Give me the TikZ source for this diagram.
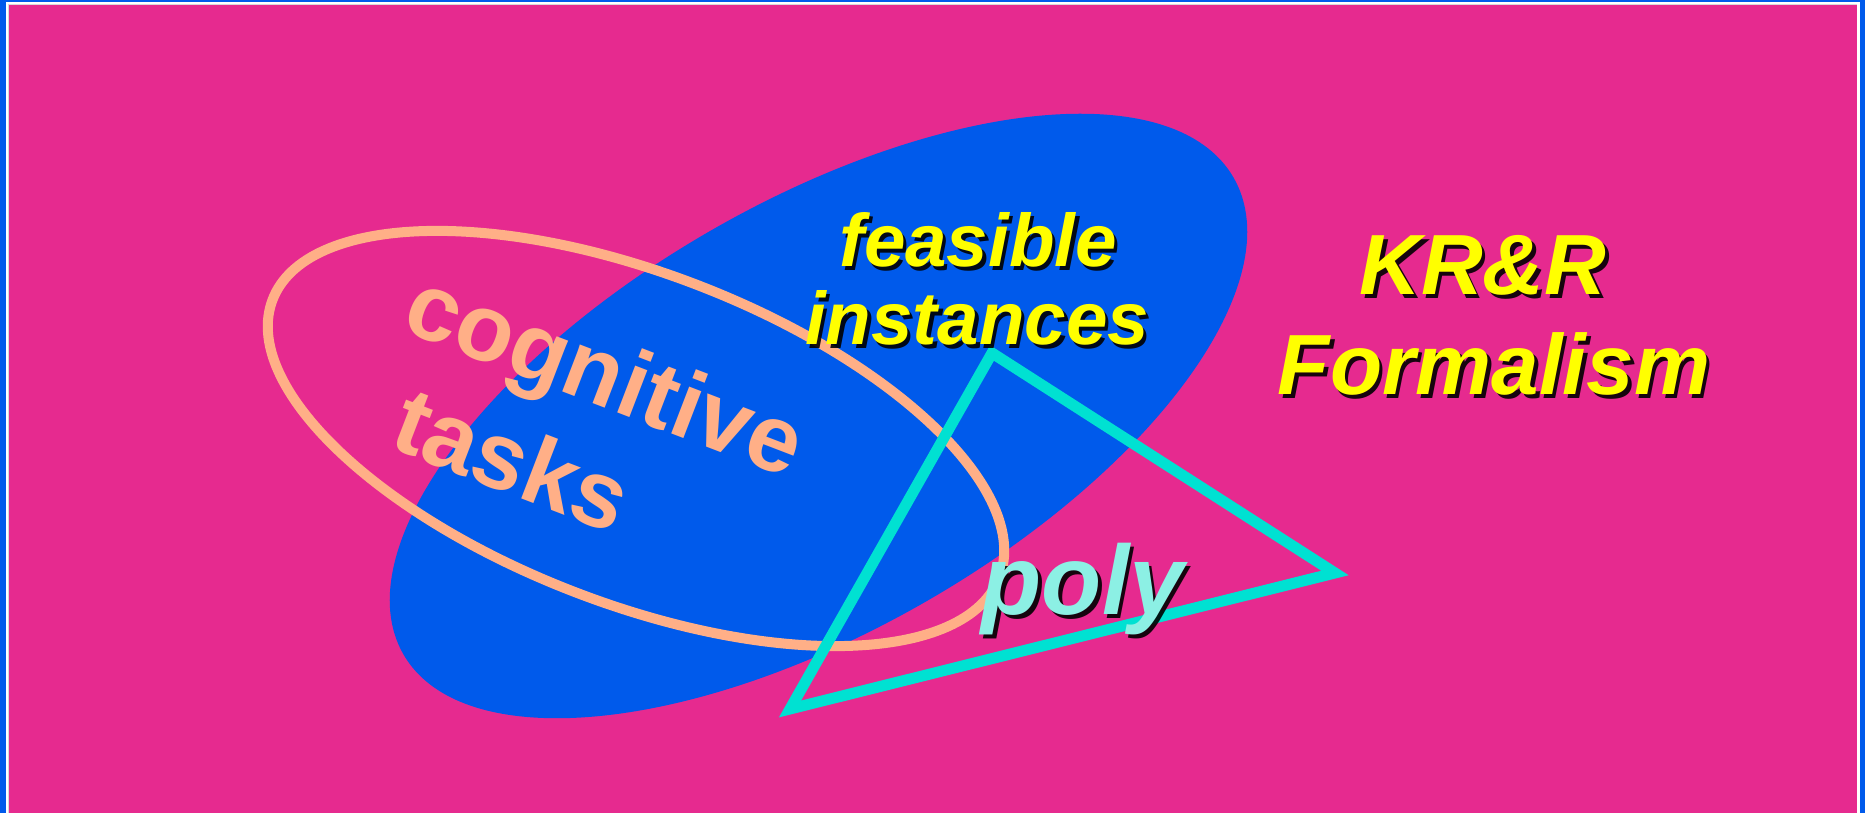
\documentclass[tikz,border=0pt]{standalone}
\usepackage{fontspec}
\setmainfont{Liberation Sans}
\definecolor{frameblue}{RGB}{0,90,235}
\definecolor{bgpink}{RGB}{230,42,143}
\definecolor{ellblue}{RGB}{0,90,235}
\definecolor{peach}{RGB}{255,175,135}
\definecolor{tricyan}{RGB}{0,225,210}
\definecolor{polycol}{RGB}{140,240,228}
\definecolor{textyellow}{RGB}{255,255,0}
\tikzset{
  yeltext/.style={font=\fontsize{21.2}{23}\selectfont\bfseries\itshape, text=textyellow, inner sep=0pt, anchor=base},
  bigyel/.style={font=\fontsize{24.3}{26}\selectfont\bfseries\itshape, text=textyellow, inner sep=0pt, anchor=base},
  polytext/.style={font=\fontsize{28}{30}\selectfont\bfseries\itshape, text=polycol, inner sep=0pt, anchor=base},
  shadowed/.style={text=black, opacity=0.9},
  peachtext/.style={font=\fontsize{27}{30}\selectfont\bfseries, text=peach, inner sep=0pt, text height=19.4pt, text depth=5.7pt, rotate=-21},
  ovalline/.style={draw=peach, line width=0.1cm},
  triline/.style={draw=tricyan, line width=0.11cm, line join=miter}
}
\begin{document}
\begin{tikzpicture}[x=0.01cm, y=-0.01cm]
\useasboundingbox (0,0) rectangle (1865,813);
% frame and background
\fill[frameblue] (0,0) rectangle (1865,813);
\fill[white] (6,2) rectangle (1860,813);
\fill[black!15] (8,4) rectangle (1857,813);
\fill[bgpink] (9,5) rectangle (1857,813);
% feasible instances region
\fill[ellblue, rotate around={29.85:(818.5,416)}] (818.5,416) ellipse [x radius=4.784cm, y radius=2.143cm];
% cognitive tasks outline
\draw[ovalline, rotate around={-20.9:(636,438.5)}] (636,438.5) ellipse [x radius=3.888cm, y radius=1.652cm];
% poly triangle
\coordinate (ta) at (992,353);
\coordinate (tb) at (1335,573);
\coordinate (tc) at (790,709);
\draw[triline] (ta) -- (tb) -- (tc) -- cycle;
% texts
\node[peachtext] (cog) at (602.5,381.5) {cognitive};
\node[peachtext] (tasks) at (509,468) {tasks};
\node[yeltext, shadowed] (feasS) at (981.5,270.5) {feasible};
\node[yeltext] (feas) at (978,267) {feasible};
\node[yeltext, shadowed] (instS) at (980.5,348.5) {instances};
\node[yeltext] (inst) at (977,345) {instances};
\node[bigyel, shadowed] (krS) at (1486.5,298.5) {KR\&R};
\node[bigyel] (kr) at (1483,295) {KR\&R};
\node[bigyel, shadowed] (formS) at (1497.5,398.5) {Formalism};
\node[bigyel] (form) at (1494,395) {Formalism};
\node[polytext, shadowed] (polyS) at (1086.5,618.5) {poly};
\node[polytext] (poly) at (1083,615) {poly};
\end{tikzpicture}
\end{document}
